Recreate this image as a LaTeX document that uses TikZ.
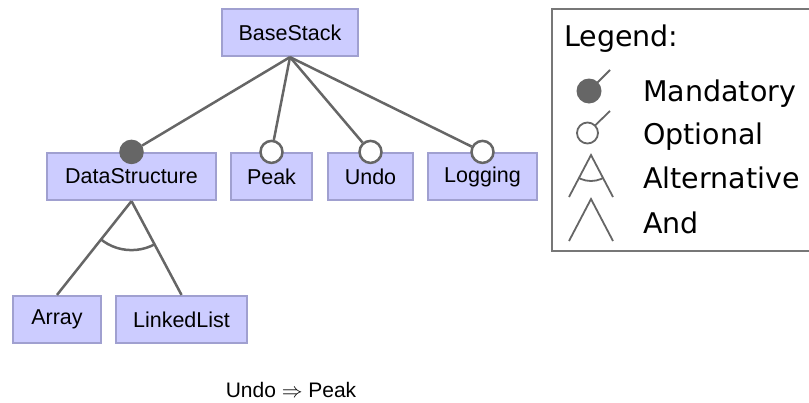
\documentclass[tikz,border=0pt]{standalone}
\usepackage{fontspec}
\setmainfont{Liberation Sans}
\newfontfamily\legendfont{DejaVu Sans}
\begin{document}
\begin{tikzpicture}[x=1pt,y=-1pt,
  feat/.style={draw=boxline,fill=boxfill,line width=2.2pt,minimum height=47pt,inner sep=0pt,
    font=\fontsize{21.5}{24}\selectfont,text=black},
  conn/.style={draw=linegray,line width=2.5pt},
  mand/.style={circle,draw=linegray,fill=linegray,line width=2.5pt,minimum size=22pt,inner sep=0pt},
  opt/.style={circle,draw=linegray,fill=white,line width=2.5pt,minimum size=22pt,inner sep=0pt},
  legtext/.style={anchor=base west,inner sep=0pt,font=\legendfont\fontsize{28.5}{31}\selectfont},
  icon/.style={draw=linegray,line width=1.8pt}
]
\definecolor{boxfill}{HTML}{CCCCFF}
\definecolor{boxline}{HTML}{A0A0D0}
\definecolor{linegray}{HTML}{666666}
\definecolor{legline}{HTML}{777777}
\useasboundingbox (0,0) rectangle (809,402);
\clip (0,0) rectangle (809,402);

% feature boxes
\node[feat,minimum width=136pt] (base) at (290,32.5) {BaseStack};
\node[feat,minimum width=169pt] (ds) at (131.5,176.5) {DataStructure};
\node[feat,minimum width=81pt] (peak) at (271.5,176.5) {Peak};
\node[feat,minimum width=85pt] (undo) at (370.5,176.5) {Undo};
\node[feat,minimum width=109pt] (log) at (482.5,176.5) {Logging};
\node[feat,minimum width=88pt] (arr) at (57,319.5) {Array};
\node[feat,minimum width=131pt] (ll) at (181.5,319.5) {LinkedList};

% decorations on top of children
\node[mand] (dsc) at (ds.north) {};
\node[opt] (peakc) at (peak.north) {};
\node[opt] (undoc) at (undo.north) {};
\node[opt] (logc) at (log.north) {};

\draw[conn] (base.south) -- (dsc);
\draw[conn] (base.south) -- (peakc);
\draw[conn] (base.south) -- (undoc);
\draw[conn] (base.south) -- (logc);

% alternative group
\draw[conn] (ds.south) -- (arr.north);
\draw[conn] (ds.south) -- (ll.north);
\begin{scope}
  \clip (ds.south) -- (arr.north) -- (ll.north) -- cycle;
  \draw[conn] (ds.south) circle (49);
\end{scope}

% constraint
\node[anchor=base,inner sep=0pt,font=\fontsize{21}{23}\selectfont] (cons) at (291,397) {Undo $\Rightarrow$ Peak};

% legend
\draw[draw=legline,line width=2.5pt] (552,9) rectangle (820,251);
\node[legtext] (lgd) at (564,46) {Legend:};
\node[legtext] (lm) at (643,101) {Mandatory};
\node[legtext] (lo) at (643,144) {Optional};
\node[legtext] (la) at (643,188) {Alternative};
\node[legtext] (lan) at (643,233) {And};

% legend icons
\fill[linegray] (589,91) circle (12.5);
\draw[icon] (597,83) -- (610,70);
\draw[icon] (587.5,133) circle (10.5);
\draw[icon] (595,125.5) -- (610,111);
\draw[icon] (569,197) -- (591,155) -- (613,197);
\begin{scope}
  \clip (569,197) -- (591,155) -- (613,197) -- cycle;
  \draw[icon] (591,155) circle (26);
\end{scope}
\draw[icon] (569,241) -- (591,199) -- (613,241);
\end{tikzpicture}
\end{document}
